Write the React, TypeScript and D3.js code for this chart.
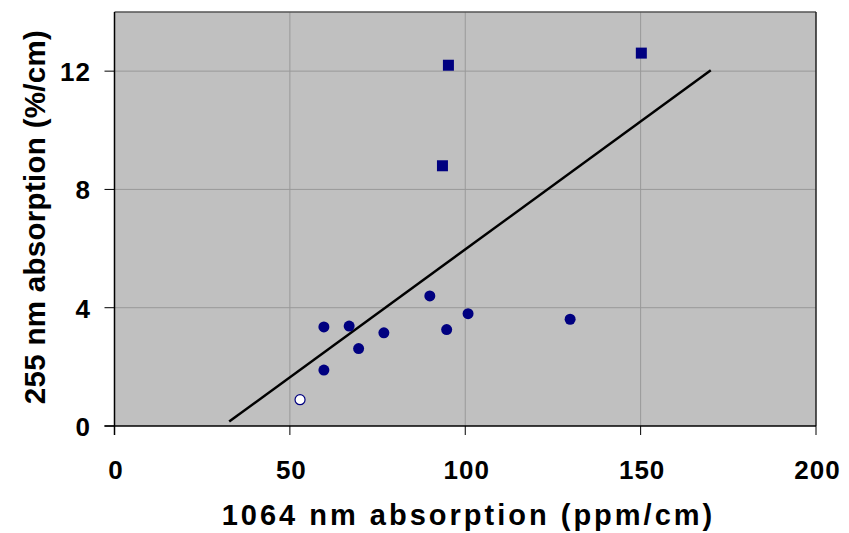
import React from 'react';
import * as d3 from 'd3';

// measured points (1064 nm abs in ppm/cm, 255 nm abs in %/cm)
const circleX = [59.7, 59.7, 66.9, 69.6, 76.8, 89.9, 94.7, 100.8, 129.9];
const circleY = [1.89, 3.35, 3.38, 2.62, 3.15, 4.4, 3.26, 3.8, 3.61];
const squareX = [95.2, 93.5, 150.2];
const squareY = [12.2, 8.8, 12.61];
const openX = [52.9];
const openY = [0.89];
const trendX = [32.7, 170.0];
const trendY = [0.15, 12.03];
const xTicks = [0, 50, 100, 150, 200];
const yTicks = [0, 4, 8, 12];

const W = 849;
const H = 533;
const margin = { left: 114.5, right: 33, top: 12, bottom: 107 };
const font = '"Liberation Sans", Arial, sans-serif';
const navy = '#000080';

export default function App() {
    const x = d3.scaleLinear().domain([0, 200]).range([margin.left, W - margin.right]);
    const y = d3.scaleLinear().domain([0, 14]).range([H - margin.bottom, margin.top]);
    const x0 = x(0), x1 = x(200), y0 = y(0), y1 = y(14);

    const trend = d3.line<number>()
        .x((d, i) => x(trendX[i]))
        .y((d) => y(d))(trendY);

    return (
        <svg width={W} height={H} style={{ position: 'absolute', left: 0, top: 0, background: '#fff' }}>
            <rect x={x0} y={y1} width={x1 - x0} height={y0 - y1} fill="#c0c0c0" />
            {/* grid */}
            {xTicks.slice(1, -1).map((t) => (
                <line key={'gx' + t} x1={x(t)} x2={x(t)} y1={y1} y2={y0} stroke="#999" strokeWidth={1} />
            ))}
            {yTicks.slice(1).map((t) => (
                <line key={'gy' + t} x1={x0} x2={x1} y1={y(t)} y2={y(t)} stroke="#999" strokeWidth={1} />
            ))}
            {/* frame */}
            <line x1={x0} x2={x1} y1={y1} y2={y1} stroke="#555" strokeWidth={1.5} />
            <line x1={x1} x2={x1} y1={y1} y2={y0} stroke="#222" strokeWidth={1.5} />
            <line x1={x0} x2={x0} y1={y1} y2={y0 + 9} stroke="#000" strokeWidth={1.5} />
            <line x1={x0 - 10} x2={x1} y1={y0} y2={y0} stroke="#000" strokeWidth={1.5} />
            {/* ticks */}
            {yTicks.map((t) => (
                <g key={'ty' + t}>
                    <line x1={x0 - 10} x2={x0} y1={y(t)} y2={y(t)} stroke="#000" strokeWidth={1} />
                    <text x={91} y={y(t) + 10} textAnchor="end" fontFamily={font} fontWeight="bold" fontSize={26} letterSpacing={1}>{t}</text>
                </g>
            ))}
            {xTicks.map((t) => (
                <g key={'tx' + t}>
                    <line x1={x(t)} x2={x(t)} y1={y0} y2={y0 + 9} stroke="#000" strokeWidth={1} />
                    <text x={x(t) + 1.5} y={479} textAnchor="middle" fontFamily={font} fontWeight="bold" fontSize={26} letterSpacing={1}>{t}</text>
                </g>
            ))}
            {/* trend line */}
            <path d={trend || ''} fill="none" stroke="#000" strokeWidth={2.5} />
            {/* data */}
            {circleX.map((v, i) => (
                <circle key={'c' + i} cx={x(v)} cy={y(circleY[i])} r={5.5} fill={navy} />
            ))}
            {squareX.map((v, i) => (
                <rect key={'s' + i} x={x(v) - 5.5} y={y(squareY[i]) - 5.5} width={11} height={11} fill={navy} />
            ))}
            {openX.map((v, i) => (
                <circle key={'o' + i} cx={x(v)} cy={y(openY[i])} r={5} fill="#fff" stroke={navy} strokeWidth={1.2} />
            ))}
            {/* titles */}
            <text x={468.5} y={525} textAnchor="middle" fontFamily={font} fontWeight="bold" fontSize={29} letterSpacing={3}>
                1064 nm absorption (ppm/cm)
            </text>
            <text transform={`translate(45,217) rotate(-90)`} textAnchor="middle" fontFamily={font} fontWeight="bold" fontSize={29.5} letterSpacing={0.3}>
                255 nm absorption (%/cm)
            </text>
        </svg>
    );
}
